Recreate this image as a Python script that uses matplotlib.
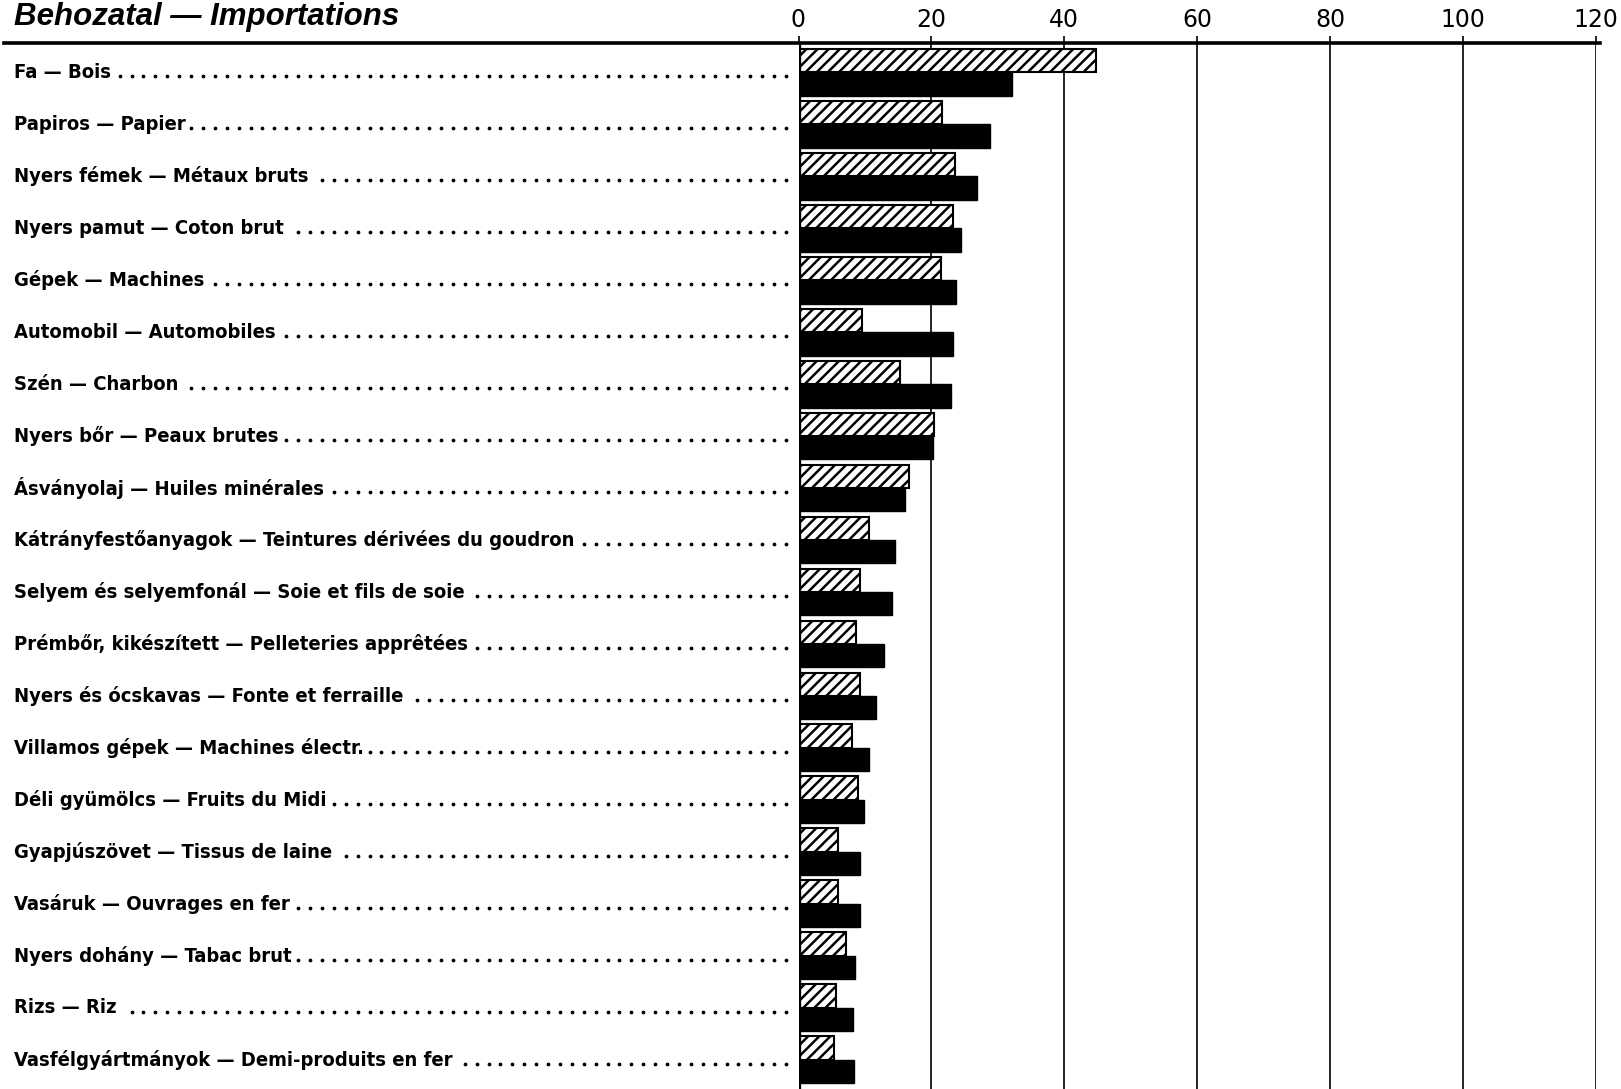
import numpy as np
import matplotlib
matplotlib.use('Agg')
import matplotlib.pyplot as plt
from matplotlib.lines import Line2D
from matplotlib import font_manager

labels = ['Fa — Bois', 'Papiros — Papier', 'Nyers fémek — Métaux bruts',
          'Nyers pamut — Coton brut', 'Gépek — Machines', 'Automobil — Automobiles',
          'Szén — Charbon', 'Nyers bőr — Peaux brutes', 'Ásványolaj — Huiles minérales',
          'Kátrányfestőanyagok — Teintures dérivées du goudron',
          'Selyem és selyemfonál — Soie et fils de soie',
          'Prémbőr, kikészített — Pelleteries apprêtées',
          'Nyers és ócskavas — Fonte et ferraille', 'Villamos gépek — Machines électr.',
          'Déli gyümölcs — Fruits du Midi', 'Gyapjúszövet — Tissus de laine',
          'Vasáruk — Ouvrages en fer', 'Nyers dohány — Tabac brut', 'Rizs — Riz',
          'Vasfélgyártmányok — Demi-produits en fer']
hatched_vals = [44.8, 21.6, 23.6, 23.2, 21.4, 9.5, 15.3, 20.4, 16.6, 10.6,
                9.2, 8.7, 9.2, 8.1, 8.9, 6.0, 5.9, 7.1, 5.6, 5.3]
black_vals = [32.1, 28.8, 26.9, 24.5, 23.7, 23.2, 23.0, 20.2, 16.1, 14.5,
              14.1, 12.8, 11.7, 10.6, 9.9, 9.2, 9.2, 8.5, 8.2, 8.3]
xticks = [0, 20, 40, 60, 80, 100, 120]
title = 'Behozatal — Importations'

W, H = 1621, 1089
plt.rcParams['hatch.linewidth'] = 1.8
fig = plt.figure(figsize=(W / 100, H / 100), dpi=100)
ax = fig.add_axes([798.5 / W, 0, (1596 - 798.5) / W, (H - 43) / H])

n = len(labels)
y = np.arange(n)
ax.barh(y - 0.225, hatched_vals, height=0.45, color='white', edgecolor='black',
        hatch='///', linewidth=1.5, zorder=3)
ax.barh(y + 0.225, black_vals, height=0.45, color='black', edgecolor='black', zorder=3)

for v in xticks[1:]:
    ax.axvline(v, color='black', lw=1.2, zorder=1)
ax.axvline(0, color='black', lw=2.4, zorder=4)

ax.set_xlim(0, 120)
ax.set_ylim(n - 1 + 0.566, -0.566)
for s in ax.spines.values():
    s.set_visible(False)
ax.set_yticks([])
ax.xaxis.tick_top()
ax.set_xticks(xticks)
ax.set_xticklabels([str(v) for v in xticks], fontsize=17, family='DejaVu Sans')
ax.tick_params(axis='x', direction='out', length=5, width=1.2, pad=3)

# top rule across whole width
fig.add_artist(Line2D([4 / W, 1600 / W], [1 - 43 / H, 1 - 43 / H], color='black', lw=2.6))

fig.text(14 / W, 1 - 17 / H, title, fontsize=22.5, fontweight='bold', fontstyle='italic',
         family=['Liberation Sans', 'DejaVu Sans'], va='center', ha='left')

# condensed face if available
fp = font_manager.FontProperties(family='DejaVu Sans', weight='bold', stretch='condensed')
texts = []
for i, lab in enumerate(labels):
    yc = 1 - (72.4 + i * 51.96) / H
    t = fig.text(14 / W, yc, lab, fontproperties=fp, fontsize=14.5)
    t.set_va('center')
    texts.append((t, yc))

fig.canvas.draw()
r = fig.canvas.get_renderer()
for t, yc in texts:
    end = t.get_window_extent(r).x1
    xs = np.arange(786, end + 5, -11.9)
    xs = xs[xs > end + 5]
    fig.add_artist(Line2D(xs / W, np.full(len(xs), yc - 4 / H), ls='none', marker='o',
                          ms=1.7, color='black'))

fig.savefig('out.png', dpi=100)
